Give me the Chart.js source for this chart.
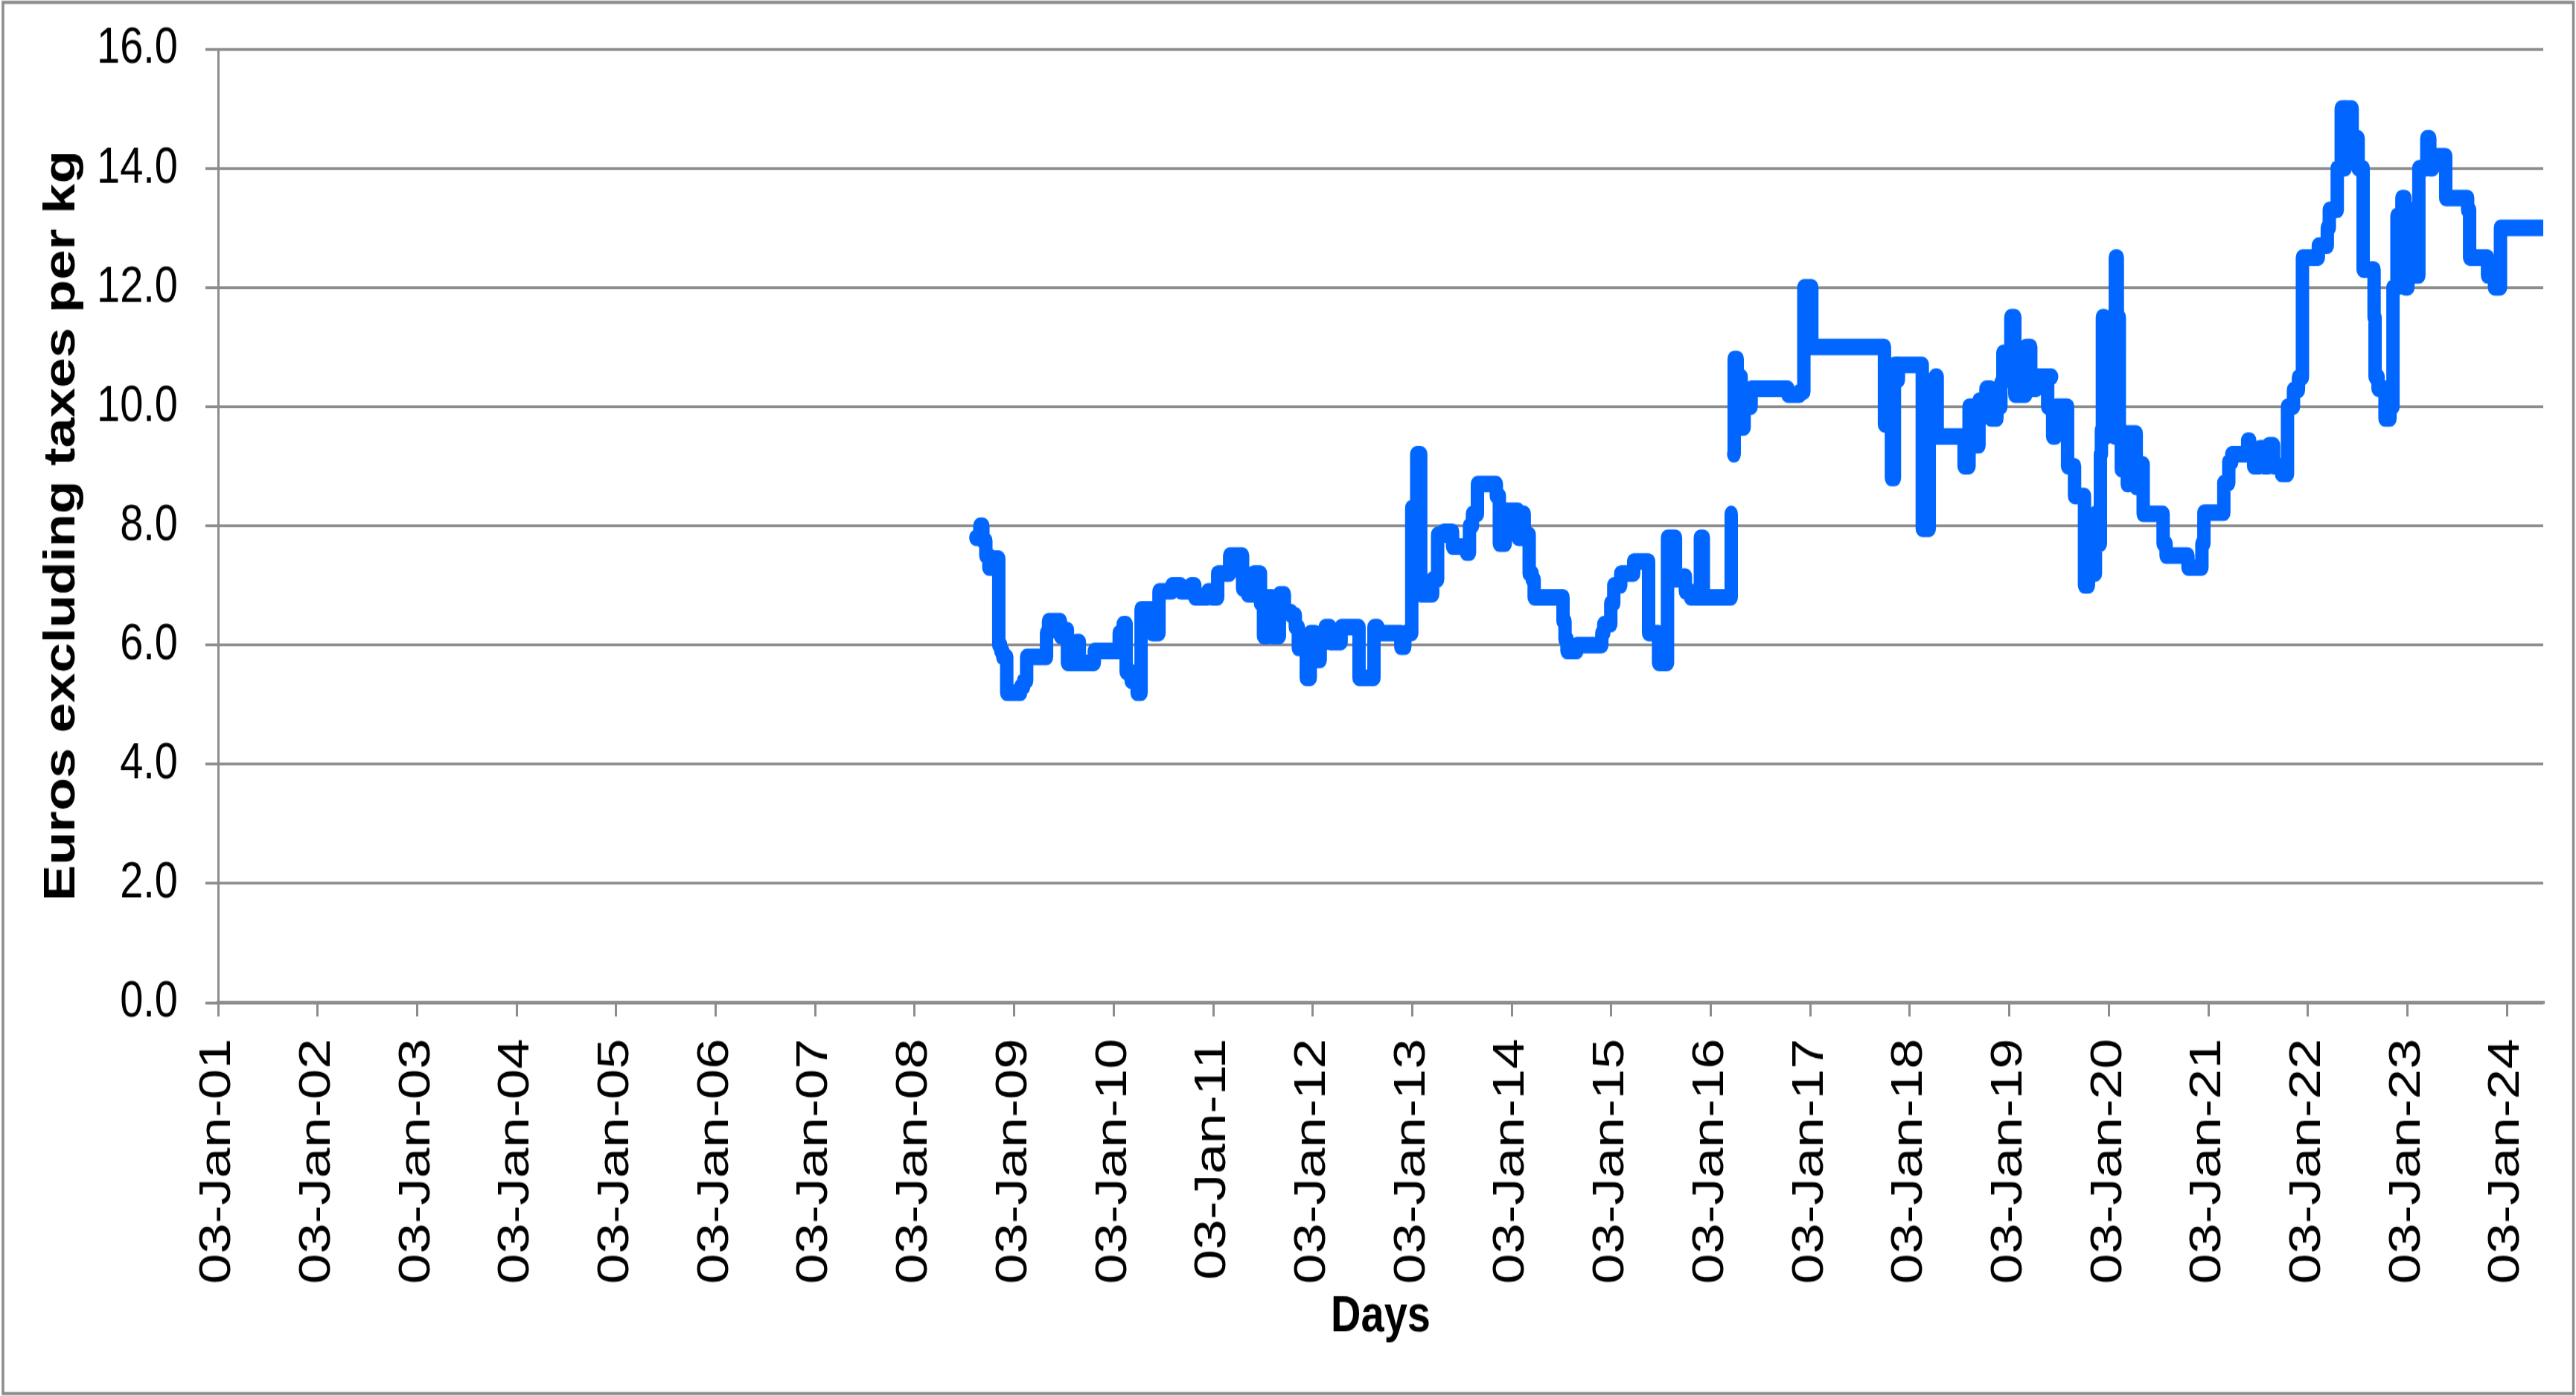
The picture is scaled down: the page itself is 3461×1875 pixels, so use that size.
<!DOCTYPE html>
<html><head><meta charset="utf-8">
<script src="https://cdn.jsdelivr.net/npm/chart.js@4.4.1/dist/chart.umd.min.js"></script>
<style>
html,body{margin:0;padding:0;background:#fff;overflow:hidden;width:3461px;height:1875px;}
#wrap{width:3461px;height:1512px;transform:scaleY(1.24);transform-origin:0 0;}
canvas{display:block;}
</style></head><body>
<div id="wrap"><canvas id="c" width="3461" height="1512"></canvas></div>
<script>
// ---- data ----
const tickYears = [2001,2002,2003,2004,2005,2006,2007,2008,2009,2010,2011,2012,2013,2014,2015,2016,2017,2018,2019,2020,2021,2022,2023,2024];
const tickLabels = ['03-Jan-01','03-Jan-02','03-Jan-03','03-Jan-04','03-Jan-05','03-Jan-06','03-Jan-07','03-Jan-08','03-Jan-09','03-Jan-10','03-Jan-11','03-Jan-12','03-Jan-13','03-Jan-14','03-Jan-15','03-Jan-16','03-Jan-17','03-Jan-18','03-Jan-19','03-Jan-20','03-Jan-21','03-Jan-22','03-Jan-23','03-Jan-24'];
const yTicks = [0,2,4,6,8,10,12,14,16];

// dates as decimal years (value applies from that date onward)
const priceDates = [
2008.62,2008.66,2008.69,2008.72,2008.75,2008.79,2008.85,2008.87,2008.89,2008.93,
2009.07,2009.10,2009.13,2009.33,2009.35,2009.47,2009.51,2009.54,2009.63,2009.66,2009.81,
2010.06,2010.10,2010.13,2010.18,2010.24,2010.28,2010.39,2010.46,2010.59,2010.68,2010.78,2010.82,2010.95,2010.99,
2011.05,2011.17,2011.30,2011.35,2011.41,2011.48,2011.51,2011.55,2011.60,2011.67,2011.72,2011.79,2011.83,2011.86,2011.94,2011.98,
2012.03,2012.08,2012.13,2012.18,2012.29,2012.47,2012.62,2012.66,2012.89,2012.93,
2013.00,2013.05,2013.09,2013.21,2013.26,2013.32,2013.41,2013.55,2013.58,2013.61,2013.66,2013.85,2013.88,2013.94,
2014.07,2014.10,2014.13,2014.18,2014.21,2014.23,2014.52,2014.54,2014.56,2014.66,2014.91,2014.93,
2015.00,2015.03,2015.10,2015.23,2015.38,2015.48,2015.57,2015.65,2015.73,2015.75,2015.80,2015.90,2015.93,
2016.21,2016.225,2016.235,2016.24,2016.27,2016.31,2016.34,2016.38,2016.41,2016.78,2016.90,2016.94,
2017.02,2017.75,2017.82,2017.85,2017.87,2017.89,
2018.13,2018.20,2018.26,2018.28,2018.55,2018.60,2018.63,2018.70,2018.77,2018.82,2018.88,2018.92,2018.94,2018.98,
2019.02,2019.06,2019.17,2019.22,2019.28,2019.43,2019.39,2019.44,2019.47,2019.59,2019.66,2019.76,2019.80,2019.85,2019.87,2019.90,2019.92,2019.93,2019.94,2019.96,2019.98,
2020.00,2020.03,2020.06,2020.07,2020.09,2020.11,2020.13,2020.15,2020.19,2020.21,2020.28,2020.33,2020.35,2020.55,2020.58,2020.80,2020.94,2020.96,
2021.16,2021.21,2021.24,2021.40,2021.42,2021.46,2021.52,2021.56,2021.61,2021.66,2021.74,2021.80,2021.86,2021.91,2021.95,
2022.11,2022.20,2022.22,2022.30,2022.34,2022.37,2022.38,2022.45,2022.51,2022.56,2022.67,2022.68,2022.71,2022.78,2022.83,2022.86,2022.90,2022.92,2022.95,2022.98,
2023.01,2023.03,2023.08,2023.12,2023.20,2023.23,2023.26,2023.39,2023.61,2023.63,2023.81,2023.88,2023.94,
2024.37
];
const priceValues = [
7.8,8.0,7.75,7.5,7.3,7.45,6.0,5.9,5.8,5.2,
5.3,5.4,5.8,6.2,6.4,6.15,6.25,5.7,6.05,5.7,5.9,
6.2,6.35,5.55,5.4,5.2,6.6,6.2,6.9,7.0,6.9,7.0,6.8,6.9,6.8,
7.2,7.5,6.95,6.85,7.2,6.7,6.15,6.8,6.15,6.85,6.55,6.5,6.3,5.95,5.45,6.2,
5.75,6.05,6.3,6.05,6.3,5.45,6.3,6.2,5.97,6.2,
8.3,9.2,6.85,7.1,7.85,7.9,7.65,7.55,8.0,8.2,8.7,8.5,7.7,8.25,
7.8,8.2,7.85,7.2,7.1,6.8,6.4,6.1,5.9,6.0,6.2,6.35,
6.7,7.0,7.2,7.4,6.2,5.7,7.8,7.1,7.15,6.9,6.8,7.8,6.8,
8.2,null,9.2,10.8,10.5,9.65,10.05,10.0,10.3,10.2,10.25,12.0,
11.0,9.7,8.8,10.7,10.45,10.7,
7.95,10.0,10.5,9.5,9.0,10.0,9.35,10.1,10.3,9.8,10.0,10.4,10.9,10.7,
11.5,10.2,11.0,10.3,10.5,10.5,10.0,9.5,10.0,9.0,8.5,7.0,7.4,7.2,8.2,7.7,9.2,9.6,11.5,9.5,11.4,
9.6,11.5,9.5,12.5,11.5,9.6,8.95,9.55,8.7,9.55,8.65,9.03,8.2,7.7,7.5,7.3,7.7,8.22,
8.72,9.07,9.2,9.43,9.2,9.0,9.3,9.0,9.35,9.0,8.87,10.0,10.28,10.49,12.5,
12.7,13.0,13.3,14.0,15.0,14.0,15.0,14.5,14.0,12.3,11.5,10.5,10.3,9.8,10.0,12.0,13.2,12.2,13.5,12.0,
13.3,12.2,12.2,14.0,14.5,14.0,14.2,13.5,13.3,12.5,12.2,12.0,13.0,
13.0
];

const X_MIN = 2001.005, X_MAX = 2024.37, TICK_OFFSET = 0.005;
const GRAY = '#8c8c8c';
const FONT = "'Liberation Sans', Arial, sans-serif";

const points = priceDates.map((d, i) => ({x: d, y: priceValues[i]}));

const framePlugin = {
  id: 'frame',
  beforeDraw(chart) {
    const c = chart.ctx;
    c.save();
    c.fillStyle = '#fff';
    c.fillRect(0, 0, chart.width, chart.height);
    c.strokeStyle = GRAY;
    c.lineWidth = 3.5;
    c.strokeRect(4, 2.5, 3453.5, 1507);
    c.restore();
  }
};

new Chart(document.getElementById('c'), {
  type: 'line',
  data: {
    datasets: [{
      data: points,
      borderColor: '#0066ff',
      backgroundColor: '#0066ff',
      borderWidth: 18,
      borderCapStyle: 'round',
      borderJoinStyle: 'round',
      pointRadius: 0,
      stepped: 'before',
      spanGaps: false,
      fill: false
    }]
  },
  options: {
    responsive: false,
    devicePixelRatio: 1,
    animation: false,
    events: [],
    layout: {padding: {top: 53, right: 44, bottom: 0, left: 0}},
    plugins: {legend: {display: false}, tooltip: {enabled: false}, title: {display: false}},
    scales: {
      x: {
        type: 'linear',
        min: X_MIN,
        max: X_MAX,
        afterBuildTicks: (scale) => { scale.ticks = tickYears.map(y => ({value: y + TICK_OFFSET})); },
        afterFit: (scale) => { scale.height = 426; scale.paddingLeft = 0; scale.paddingRight = 0; },
        grid: {drawOnChartArea: false, drawTicks: true, tickLength: 15, color: GRAY, lineWidth: 3},
        border: {display: true, color: GRAY, width: 3.5},
        ticks: {
          autoSkip: false, minRotation: 90, maxRotation: 90, padding: 24,
          color: '#000', font: {family: FONT, size: 59},
          callback: (v, i) => tickLabels[i]
        },
        title: {display: true, text: 'Days', color: '#000',
          font: {family: FONT, size: 56, weight: 'bold'}, padding: {top: 0, bottom: 52}}
      },
      y: {
        min: 0, max: 16,
        afterBuildTicks: (scale) => { scale.ticks = yTicks.map(v => ({value: v})); },
        afterFit: (scale) => { scale.width = 293; scale.paddingTop = 0; scale.paddingBottom = 0; },
        grid: {drawOnChartArea: true, drawTicks: true, tickLength: 17, color: GRAY, lineWidth: 3},
        border: {display: true, color: GRAY, width: 3},
        ticks: {padding: 37, color: '#000', font: {family: FONT, size: 56},
          callback: (v) => Number(v).toFixed(1)},
        title: {display: true, text: 'Euros excluding taxes per kg', color: '#000',
          font: {family: FONT, size: 58.5, weight: 'bold'}, padding: {top: 49, bottom: 0}}
      }
    }
  },
  plugins: [framePlugin]
});
</script>
</body></html>
